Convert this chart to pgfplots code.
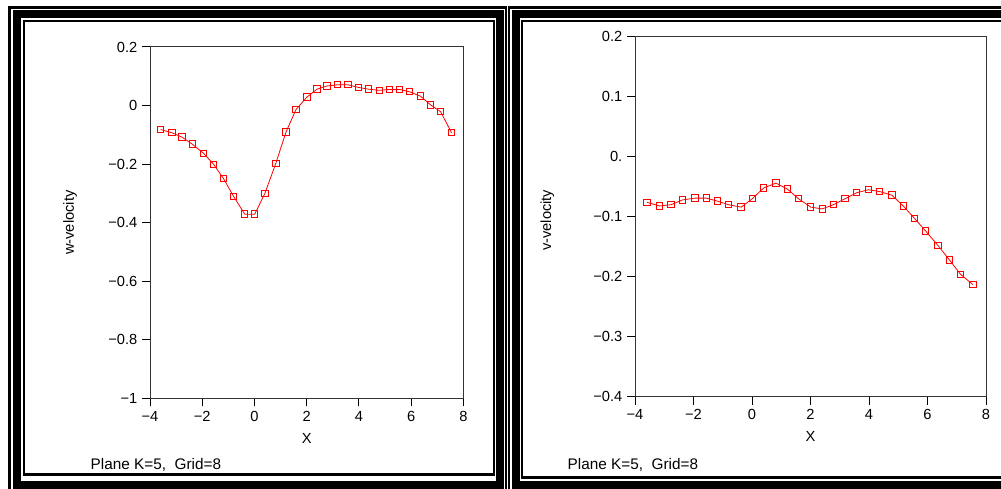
\documentclass[border=0pt]{standalone}
\usepackage{fontspec}
\setmainfont{Liberation Sans}
\usepackage{pgfplots}
\pgfplotsset{compat=1.18}

% one reference pixel = 0.75pt
\pgfplotsset{
  velplot/.style={
    scale only axis,
    axis line style={black!80, line width=0.75pt},
    tick style={black, line width=0.75pt},
    tick align=outside,
    major tick length=6pt,
    xtick pos=bottom, ytick pos=left,
    xmin=-4, xmax=8,
    xtick={-4,-2,0,2,4,6,8},
    xticklabels={−4,−2,0,2,4,6,8},
    tick label style={font=\fontsize{11}{13}\selectfont},
    label style={font=\fontsize{11}{13}\selectfont},
    xlabel={X},
  },
  velline/.style={red, line width=0.6pt, mark=square, mark size=2.4pt,
    mark options={red, line width=0.75pt, solid}},
}

\begin{document}
\begin{tikzpicture}
\useasboundingbox (0,0) rectangle (750.75pt,366.75pt);

% panel frames
\begin{scope}[x=0.75pt, y=-0.75pt, shift={(0pt,366.75pt)}]
  \draw[line width=1.9pt] (9.5,7.5) rectangle (506,495);
  \draw[line width=6pt] (17,14) rectangle (499.5,485);
  \draw[line width=1.6pt] (24,21) rectangle (494,474.5);
  \draw[line width=1.9pt] (509,7.5) rectangle (1012,495);
  \draw[line width=6pt] (515.5,14) rectangle (1006,485);
  \draw[line width=1.6pt] (522,21) rectangle (1004,477.5);
  \node[anchor=west, font=\fontsize{11.5}{13}\selectfont] at (86,465) {Plane K=5,\ \ Grid=8};
  \node[anchor=west, font=\fontsize{11.5}{13}\selectfont] at (563,465) {Plane K=5,\ \ Grid=8};
\end{scope}

\begin{axis}[velplot,
  at={(112.5pt,68pt)}, anchor=south west,
  width=235pt, height=263.5pt,
  ymin=-1, ymax=0.2,
  ytick={-1,-0.8,-0.6,-0.4,-0.2,0,0.2},
  yticklabels={−1,−0.8,−0.6,−0.4,−0.2,0,0.2},
  ylabel={w-velocity},
  ylabel style={at={(axis description cs:-0.255,0.5)}, anchor=center},
  xlabel style={at={(axis description cs:0.5,-0.114)}, anchor=center},
]
\addplot[velline] coordinates {
(-3.59,-0.082) (-3.16,-0.093) (-2.77,-0.108) (-2.38,-0.132) (-1.95,-0.163)
(-1.56,-0.201) (-1.18,-0.250) (-0.80,-0.310) (-0.37,-0.371) (0.01,-0.371)
(0.40,-0.300) (0.82,-0.197) (1.21,-0.090) (1.59,-0.014) (2.01,0.029)
(2.40,0.056) (2.78,0.067) (3.18,0.071) (3.58,0.071) (3.98,0.062)
(4.36,0.056) (4.78,0.052) (5.17,0.055) (5.56,0.055) (5.94,0.047)
(6.36,0.032) (6.75,0.002) (7.13,-0.021) (7.55,-0.093)
};
\end{axis}

\begin{axis}[velplot,
  at={(476.25pt,69.2pt)}, anchor=south west,
  width=263.25pt, height=270pt,
  ymin=-0.4, ymax=0.2,
  ytick={-0.4,-0.3,-0.2,-0.1,0,0.1,0.2},
  yticklabels={−0.4,−0.3,−0.2,−0.1,0.,0.1,0.2},
  ylabel={v-velocity},
  ylabel style={at={(axis description cs:-0.25,0.49)}, anchor=center},
  xlabel style={at={(axis description cs:0.5,-0.111)}, anchor=center},
]
\addplot[velline] coordinates {
(-3.59,-0.076) (-3.16,-0.082) (-2.77,-0.080) (-2.38,-0.072) (-1.95,-0.069)
(-1.56,-0.069) (-1.18,-0.074) (-0.80,-0.080) (-0.37,-0.084) (0.01,-0.070)
(0.40,-0.052) (0.82,-0.044) (1.21,-0.054) (1.59,-0.070) (2.01,-0.084)
(2.40,-0.087) (2.78,-0.080) (3.18,-0.070) (3.58,-0.060) (3.98,-0.055)
(4.36,-0.058) (4.78,-0.064) (5.17,-0.082) (5.56,-0.103) (5.94,-0.124)
(6.36,-0.148) (6.75,-0.172) (7.13,-0.196) (7.55,-0.213)
};
\end{axis}
\end{tikzpicture}
\end{document}
